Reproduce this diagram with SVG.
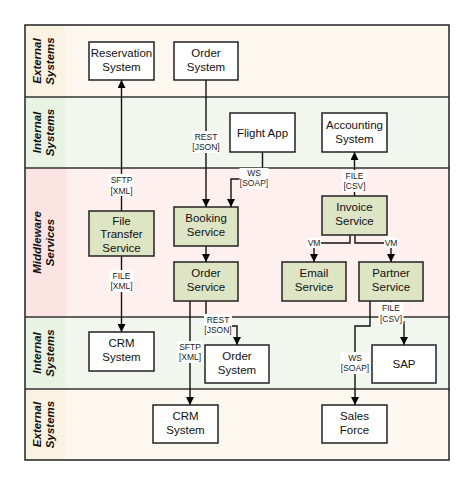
<svg xmlns="http://www.w3.org/2000/svg" width="474" height="486" viewBox="0 0 474 486">
<style>
.node rect{stroke:#222;stroke-width:1.5}
.plain rect{fill:#ffffff}
.svc rect{fill:#dde5c5}
.node text{font-family:"Liberation Sans",Arial,sans-serif;font-size:11.5px;fill:#111;text-anchor:middle}
.lane-title{font-family:"Liberation Sans",Arial,sans-serif;font-size:11.5px;font-weight:bold;font-style:italic;fill:#111;text-anchor:middle}
.edge{fill:none;stroke:#111;stroke-width:1.4}
.lbl rect{fill:#ffffff}
.lbl text{font-family:"Liberation Sans",Arial,sans-serif;font-size:8.5px;fill:#222;text-anchor:middle}
.lane-line{stroke:#333;stroke-width:1.5;fill:none}
</style>
<defs>
<marker id="arr" markerWidth="8" markerHeight="8" refX="8" refY="4" orient="auto" markerUnits="userSpaceOnUse">
<path d="M0,0 L8,4 L0,8 z" fill="#000"/>
</marker>
</defs>
<rect width="474" height="486" fill="#ffffff"/>
<g id="lanes">
<rect x="25" y="25" width="424" height="72" fill="#fdf8ef"/>
<rect x="25" y="25" width="40" height="72" fill="#fcf2e2"/>
<rect x="25" y="97" width="424" height="71" fill="#f1f7ee"/>
<rect x="25" y="97" width="40" height="71" fill="#e9f3e4"/>
<rect x="25" y="168" width="424" height="149" fill="#fdf0ef"/>
<rect x="25" y="168" width="42" height="149" fill="#fbe4e1"/>
<rect x="25" y="317" width="424" height="72" fill="#f1f7ee"/>
<rect x="25" y="317" width="40" height="72" fill="#e9f3e4"/>
<rect x="25" y="389" width="424" height="71" fill="#fdf8ef"/>
<rect x="25" y="389" width="40" height="71" fill="#fcf2e2"/>
<line class="lane-line" x1="25" y1="97" x2="449" y2="97"/>
<line class="lane-line" x1="25" y1="168" x2="449" y2="168"/>
<line class="lane-line" x1="25" y1="317" x2="449" y2="317"/>
<line class="lane-line" x1="25" y1="389" x2="449" y2="389"/>
<rect x="25" y="25" width="424" height="435" fill="none" stroke="#222" stroke-width="1.5"/>
<text class="lane-title" transform="translate(45,61) rotate(-90)"><tspan x="0" y="-4">External</tspan><tspan x="0" y="9">Systems</tspan></text>
<text class="lane-title" transform="translate(45,132.5) rotate(-90)"><tspan x="0" y="-4">Internal</tspan><tspan x="0" y="9">Systems</tspan></text>
<text class="lane-title" transform="translate(45,242.5) rotate(-90)"><tspan x="0" y="-4">Middleware</tspan><tspan x="0" y="9">Services</tspan></text>
<text class="lane-title" transform="translate(45,353) rotate(-90)"><tspan x="0" y="-4">Internal</tspan><tspan x="0" y="9">Systems</tspan></text>
<text class="lane-title" transform="translate(45,424.5) rotate(-90)"><tspan x="0" y="-4">External</tspan><tspan x="0" y="9">Systems</tspan></text>
</g>
<g id="connectors">
<path class="edge" marker-end="url(#arr)" d="M121.5,211 V80"/>
<path class="edge" marker-end="url(#arr)" d="M121.5,256 V332"/>
<path class="edge" marker-end="url(#arr)" d="M206,80 V207"/>
<path class="edge" marker-end="url(#arr)" d="M262.5,152 V179 H231 V207"/>
<path class="edge" marker-end="url(#arr)" d="M206,246 V262"/>
<path class="edge" marker-end="url(#arr)" d="M206,301 V326 H237 V345"/>
<path class="edge" marker-end="url(#arr)" d="M190,301 V405"/>
<path class="edge" marker-end="url(#arr)" d="M354.5,196 V152"/>
<path class="edge" marker-end="url(#arr)" d="M350,235 V243 H314 V262"/>
<path class="edge" marker-end="url(#arr)" d="M355,235 V243 H391 V262"/>
<path class="edge" marker-end="url(#arr)" d="M391,301 V322 H404 V345"/>
<path class="edge" marker-end="url(#arr)" d="M370,301 V326 H355 V405"/>
<g class="lbl">
<rect x="109" y="174" width="25" height="22"/><text x="121.5" y="183">SFTP</text><text x="121.5" y="194">[XML]</text>
<rect x="109" y="270" width="25" height="22"/><text x="121.5" y="279">FILE</text><text x="121.5" y="289">[XML]</text>
<rect x="192" y="131" width="28" height="22"/><text x="206" y="140">REST</text><text x="206" y="150">[JSON]</text>
<rect x="239.5" y="168" width="29" height="21"/><text x="254" y="176">WS</text><text x="254" y="186">[SOAP]</text>
<rect x="204" y="314" width="28" height="22"/><text x="218" y="323">REST</text><text x="218" y="333">[JSON]</text>
<rect x="177.5" y="341" width="25" height="22"/><text x="190" y="350">SFTP</text><text x="190" y="360">[XML]</text>
<rect x="342" y="170" width="25" height="22"/><text x="354.5" y="179">FILE</text><text x="354.5" y="189">[CSV]</text>
<rect x="307" y="238" width="14" height="10"/><text x="314" y="246">VM</text>
<rect x="384" y="238" width="14" height="10"/><text x="391" y="246">VM</text>
<rect x="378.5" y="302" width="25" height="22"/><text x="391" y="311">FILE</text><text x="391" y="322">[CSV]</text>
<rect x="340.5" y="352" width="29" height="22"/><text x="355" y="361">WS</text><text x="355" y="371">[SOAP]</text>
</g>
</g>
<g id="reservation-system" class="node plain"><rect x="89" y="42" width="65" height="38"/><text x="121.5" y="57">Reservation</text><text x="121.5" y="71">System</text></g>
<g id="order-system-ext" class="node plain"><rect x="174" y="42" width="64" height="38"/><text x="206" y="57">Order</text><text x="206" y="71">System</text></g>
<g id="flight-app" class="node plain"><rect x="230" y="113" width="65" height="39"/><text x="262.5" y="136.5">Flight App</text></g>
<g id="accounting-system" class="node plain"><rect x="322" y="113" width="65" height="39"/><text x="354.5" y="129">Accounting</text><text x="354.5" y="143">System</text></g>
<g id="file-transfer-service" class="node svc"><rect x="89" y="211" width="65" height="45"/><text x="121.5" y="224.5">File</text><text x="121.5" y="238">Transfer</text><text x="121.5" y="252">Service</text></g>
<g id="booking-service" class="node svc"><rect x="174" y="207" width="64" height="39"/><text x="206" y="222">Booking</text><text x="206" y="236">Service</text></g>
<g id="order-service" class="node svc"><rect x="174" y="262" width="64" height="39"/><text x="206" y="277">Order</text><text x="206" y="291">Service</text></g>
<g id="invoice-service" class="node svc"><rect x="322" y="196" width="65" height="39"/><text x="354.5" y="211">Invoice</text><text x="354.5" y="225">Service</text></g>
<g id="email-service" class="node svc"><rect x="282" y="262" width="64" height="39"/><text x="314" y="277">Email</text><text x="314" y="291">Service</text></g>
<g id="partner-service" class="node svc"><rect x="359" y="262" width="64" height="39"/><text x="391" y="277">Partner</text><text x="391" y="291">Service</text></g>
<g id="crm-system-int" class="node plain"><rect x="89" y="332" width="65" height="39"/><text x="121.5" y="347">CRM</text><text x="121.5" y="361">System</text></g>
<g id="order-system-int" class="node plain"><rect x="205" y="345" width="64" height="38"/><text x="237" y="360">Order</text><text x="237" y="374">System</text></g>
<g id="sap" class="node plain"><rect x="372" y="345" width="64" height="38"/><text x="404" y="368">SAP</text></g>
<g id="crm-system-ext" class="node plain"><rect x="153" y="405" width="65" height="38"/><text x="185.5" y="420">CRM</text><text x="185.5" y="434">System</text></g>
<g id="sales-force" class="node plain"><rect x="322" y="405" width="65" height="38"/><text x="354.5" y="420">Sales</text><text x="354.5" y="434">Force</text></g>
</svg>
